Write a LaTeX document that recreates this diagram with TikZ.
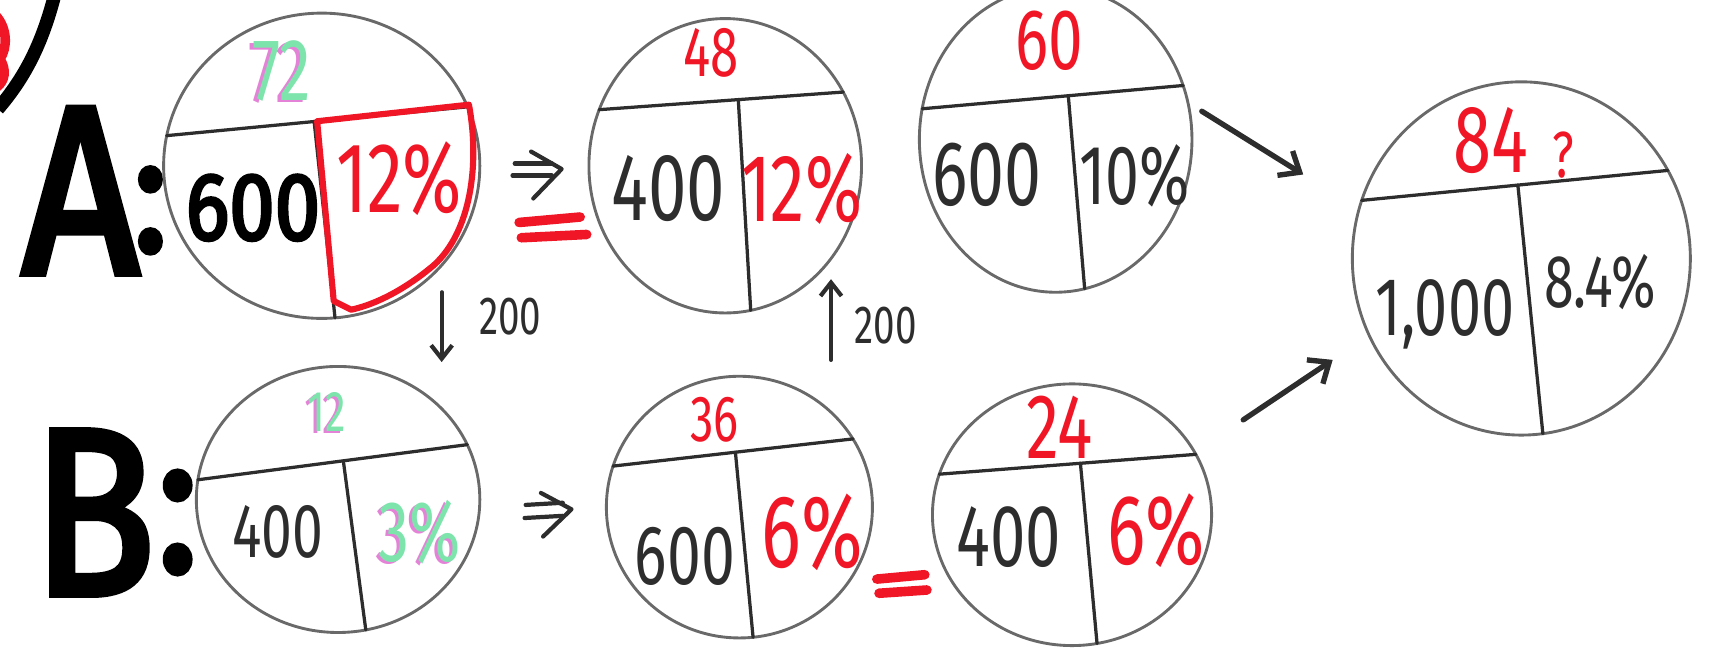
\documentclass[tikz,border=0pt]{standalone}
\usepackage{fontspec}
\usepackage{graphicx}
\usetikzlibrary{shapes.geometric,arrows.meta,calc}
\setmainfont{Fira Sans}
\newfontfamily\hand[FakeStretch=0.72]{Fira Sans}
\newfontfamily\heavyfont[FakeBold=3,FakeStretch=0.85]{Fira Sans}
\definecolor{pencil}{RGB}{105,105,105}
\definecolor{ink}{RGB}{45,45,45}
\definecolor{hred}{RGB}{240,22,38}
\definecolor{mint}{RGB}{125,228,172}
\definecolor{pinkhl}{RGB}{228,130,215}
\newcommand\fsz[1]{\fontsize{#1}{#1}\selectfont}
\newcommand\duo[1]{\textcolor{pinkhl}{\rlap{\kern-1.8pt\raisebox{-1pt}{#1}}}\textcolor{mint}{#1}}
\begin{document}
\begin{tikzpicture}[x=0.02cm,y=-0.02cm,
  bubble/.style={draw=pencil, line width=1.5pt, ellipse, inner sep=0pt, outer sep=0pt},
  divider/.style={draw=ink, line width=1.7pt, line cap=round},
  val/.style={inner sep=0pt, outer sep=0pt, text depth=0pt, text=ink},
  redval/.style={val, text=hred},
  mintval/.style={val, text=mint},
  pen/.style={draw=ink, line width=2.2pt, line cap=round, line join=round},
  redpen/.style={draw=hred, line width=3.2pt, line cap=round, line join=round},
  smallarrow/.style={draw=ink, line width=2.2pt, line cap=round, -{Straight Barb[length=7pt,width=11pt]}},
  bigarrow/.style={draw=ink, line width=2.8pt, line cap=round, -{Straight Barb[length=9pt,width=15pt]}},
  letter/.style={inner sep=0pt, outer sep=0pt, text depth=0pt, text=black}
]
\useasboundingbox (0,0) rectangle (1568,597);

% fragment at top-left
\draw[black, line width=7pt] (50,-4) .. controls (38,42) and (22,72) .. (-2,100);
\draw[hred, line width=5pt, line cap=round] (-4,14) .. controls (7,26) and (7,44) .. (0,54) .. controls (6,64) and (5,74) .. (-3,80);

% row labels
\node[letter, font=\heavyfont\fsz{125}] (la) at (74,175) {A};
\node[letter, font=\heavyfont\fsz{88}] (lac) at (138,192) {:};
\node[letter, font=\heavyfont\fsz{124}] (lb) at (86,470) {B};
\node[letter, font=\heavyfont\fsz{105}] (lbc) at (163,478) {:};

% ---------- bubbles ----------
\node[bubble, minimum width=5.8cm, minimum height=5.6cm] (a1) at (295,152) {};
\node[bubble, minimum width=5.0cm, minimum height=5.4cm] (a2) at (665,152) {};
\node[bubble, minimum width=5.0cm, minimum height=5.6cm] (a3) at (968,128) {};
\node[bubble, minimum width=6.2cm, minimum height=6.48cm] (r) at (1395,237) {};
\node[bubble, minimum width=5.2cm, minimum height=4.88cm] (b1) at (310,458) {};
\node[bubble, minimum width=4.88cm, minimum height=4.8cm] (b2) at (678,465) {};
\node[bubble, minimum width=5.12cm, minimum height=4.8cm] (b3) at (983,472) {};

% dividers
\draw[divider] (a1.169) -- (a1.22);
\draw[divider] ($(a1.169)!0.49!(a1.22)$) -- (a1.275);
\draw[divider] (a2.156) -- (a2.32);
\draw[divider] ($(a2.156)!0.57!(a2.32)$) -- (a2.280);
\draw[divider] (a3.167) -- (a3.23);
\draw[divider] ($(a3.167)!0.56!(a3.23)$) -- (a3.281);
\draw[divider] (r.160) -- (r.31);
\draw[divider] ($(r.160)!0.51!(r.31)$) -- (r.277);
\draw[divider] (b1.172) -- (b1.23);
\draw[divider] ($(b1.172)!0.54!(b1.23)$) -- (b1.282);
\draw[divider] (b2.162) -- (b2.31);
\draw[divider] ($(b2.162)!0.51!(b2.31)$) -- (b2.276);
\draw[divider] (b3.163) -- (b3.26);
\draw[divider] ($(b3.163)!0.55!(b3.26)$) -- (b3.281);

% red outline in A1
\draw[redpen] ($(a1.169)!0.5!(a1.22)$) -- (430,96)
  .. controls (440,150) and (432,212) .. (398,243)
  .. controls (372,265) and (345,279) .. (322,284) -- (306,276) -- cycle;

% ---------- values ----------
% A1
\node[mintval, font=\hand\fsz{46}] (a1t) at (258,65) {\duo{72}};
\node[letter, font=\heavyfont\fsz{50}] (a1l) at (232,190) {600};
\node[redval, font=\hand\fsz{52}] (a1r) at (366,162) {12\%};
% A2
\node[redval, font=\hand\fsz{37}] (a2t) at (652,48) {48};
\node[val, font=\hand\fsz{50}] (a2l) at (613,172) {400};
\node[redval, font=\hand\fsz{50}] (a2r) at (735,172) {12\%};
% A3
\node[redval, font=\hand\fsz{45}] (a3t) at (962,37) {60};
\node[val, font=\hand\fsz{48}] (a3l) at (905,160) {600};
\node[val, font=\hand\fsz{44}] (a3r) at (1040,160) {10\%};
% result
\node[redval, font=\hand\fsz{50}] (rt) at (1367,128) {84};
\node[redval, font=\hand\fsz{34}] (rq) at (1433,142) {?};
\node[val, font=\hand\fsz{43}] (rl) at (1325,282) {1,000};
\node[val, font=\hand\fsz{39}] (rr) at (1467,258) {8.4\%};
% B1
\node[mintval, font=\hand\fsz{30}] (b1t) at (300,378) {\duo{12}};
\node[val, font=\hand\fsz{40}] (b1l) at (255,487) {400};
\node[mintval, font=\hand\fsz{45}] (b1r) at (385,487) {\duo{3\%}};
% B2
\node[redval, font=\hand\fsz{34}] (b2t) at (655,385) {36};
\node[val, font=\hand\fsz{44}] (b2l) at (628,510) {600};
\node[redval, font=\hand\fsz{54}] (b2r) at (745,487) {6\%};
% B3
\node[redval, font=\hand\fsz{48}] (b3t) at (972,392) {24};
\node[val, font=\hand\fsz{46}] (b3l) at (925,492) {400};
\node[redval, font=\hand\fsz{52}] (b3r) at (1060,485) {6\%};

% ---------- arrows between bubbles ----------
\coordinate (dn1) at (405,268);
\coordinate (dn2) at (405,332);
\draw[smallarrow] (dn1) -- (dn2);
\node[val, font=\hand\fsz{28}] (dnl) at (468,290) {200};

\coordinate (up1) at (762,330);
\coordinate (up2) at (762,256);
\draw[smallarrow] (up1) -- (up2);
\node[val, font=\hand\fsz{28}] (upl) at (812,298) {200};

\coordinate (ar1) at (1102,102);
\coordinate (ar2) at (1195,160);
\draw[bigarrow] (ar1) -- (ar2);
\coordinate (br1) at (1140,385);
\coordinate (br2) at (1222,330);
\draw[bigarrow] (br1) -- (br2);

% implies symbols
\draw[pen] (472,150) -- (506,150);
\draw[pen] (470,161) -- (506,161);
\draw[pen] (487,139) -- (515,155) -- (489,182);
\draw[pen] (482,463) -- (516,461);
\draw[pen] (481,475) -- (516,473);
\draw[pen] (496,452) -- (524,467) -- (498,492);

% red equals signs
\draw[redpen, line width=5pt] (476,204) -- (532,199);
\draw[redpen, line width=5pt] (478,218) -- (538,215);
\draw[redpen, line width=5pt] (804,531) -- (848,527);
\draw[redpen, line width=5pt] (806,544) -- (850,541);
\end{tikzpicture}
\end{document}
